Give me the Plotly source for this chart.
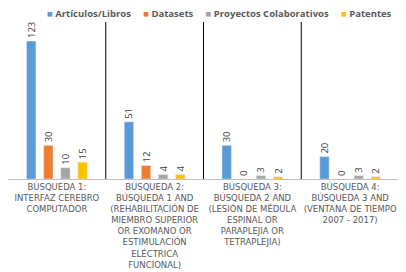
import plotly.graph_objects as go

categories = [
    "BÚSQUEDA 1:<br>INTERFAZ CEREBRO<br>COMPUTADOR",
    "BÚSQUEDA 2:<br>BÚSQUEDA 1 AND<br>(REHABILITACIÓN DE<br>MIEMBRO SUPERIOR<br>OR EXOMANO OR<br>ESTIMULACIÓN<br>ELÉCTRICA<br>FUNCIONAL)",
    "BÚSQUEDA 3:<br>BÚSQUEDA 2 AND<br>(LESIÓN DE MÉDULA<br>ESPINAL OR<br>PARAPLEJIA OR<br>TETRAPLEJIA)",
    "BÚSQUEDA 4:<br>BÚSQUEDA 3 AND<br>(VENTANA DE TIEMPO<br>2007 - 2017)",
]
series_names = ["Artículos/Libros", "Datasets", "Proyectos Colaborativos", "Patentes"]
articulos = [123, 51, 30, 20]
datasets = [30, 12, 0, 0]
proyectos = [10, 4, 3, 3]
patentes = [15, 4, 2, 2]
colors = ["#5B9BD5", "#ED7D31", "#A5A5A5", "#FFC000"]

fig = go.Figure()
for name, vals, c in zip(series_names, [articulos, datasets, proyectos, patentes], colors):
    fig.add_trace(go.Bar(
        x=categories, y=vals, name=name, marker_color=c,
        text=[str(v) for v in vals], textposition="outside", textangle=-90,
        textfont=dict(size=9.5, color="#404040", family="Open Sans"),
        cliponaxis=False, constraintext="none", showlegend=False,
    ))

for i in range(len(categories) - 1):
    fig.add_shape(type="line", xref="x", yref="paper", x0=i + 0.5, x1=i + 0.5,
                  y0=0, y1=1, line=dict(color="black", width=1))

legend_text = "&nbsp;&nbsp;&nbsp;&nbsp;&nbsp;".join(
    f"<span style='color:{c}'>■</span> <b>{n}</b>" for n, c in zip(series_names, colors)
)
fig.add_annotation(text=legend_text, xref="paper", yref="paper", x=0.54, xanchor="center",
                   y=1.0, yanchor="bottom", yshift=0, showarrow=False,
                   font=dict(size=9.5, color="#595959", family="Open Sans"))

fig.update_layout(
    width=398, height=264,
    margin=dict(l=0, r=7, t=14, b=93, autoexpand=False),
    paper_bgcolor="white", plot_bgcolor="white",
    barmode="group", bargap=0.3, bargroupgap=0.45,
    showlegend=False,
    font=dict(family="Open Sans", color="#595959"),
)
fig.update_xaxes(showline=True, linecolor="#BFBFBF", linewidth=1, mirror=False,
                 tickfont=dict(size=8.5, color="#595959", family="DejaVu Sans"),
                 ticks="", showgrid=False, automargin=False)
fig.update_yaxes(range=[0, 140], showticklabels=False, showgrid=False, zeroline=False,
                 showline=True, linecolor="#BFBFBF", mirror=True, ticks="")

fig.write_html("out.html")
